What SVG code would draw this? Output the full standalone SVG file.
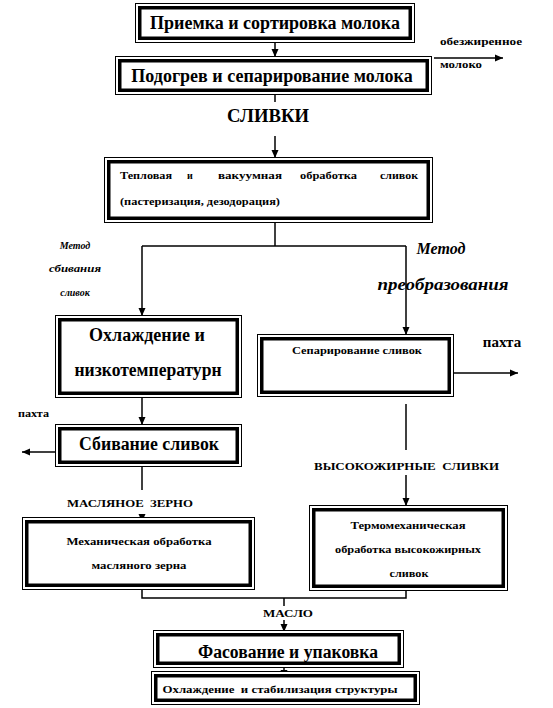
<svg xmlns="http://www.w3.org/2000/svg" width="553" height="708" viewBox="0 0 553 708" font-family="'Liberation Serif', 'DejaVu Serif', 'Times New Roman', serif">
<defs>
<marker id="ah" markerUnits="userSpaceOnUse" markerWidth="9" markerHeight="8" refX="8" refY="4" orient="auto">
<path d="M0,0.5 L8,4 L0,7.5 z" fill="#000"/>
</marker>
</defs>
<style>
.o{fill:#fff;stroke:#000;stroke-width:1}
.i{fill:none;stroke:#000;stroke-width:3.5}
.c{fill:none;stroke:#000;stroke-width:1.5}
.a{marker-end:url(#ah)}
text{font-family:'Liberation Serif','DejaVu Serif','Times New Roman',serif;font-weight:bold;fill:#000}
.big{font-size:18px;text-anchor:middle}
.sm{font-size:10px}
.smc{font-size:10px;text-anchor:middle}
.it{font-style:italic}
</style>
<rect width="553" height="708" fill="#fff"/>

<g id="connectors">
<line class="c a" x1="275" y1="43" x2="275" y2="57"/>
<line class="c" x1="275" y1="95" x2="275" y2="102"/>
<line class="c a" x1="275" y1="136" x2="275" y2="158"/>
<polyline class="c" points="275,222 275,246"/>
<polyline class="c a" points="142,246 142,316"/>
<polyline class="c" points="142,246 406,246"/>
<polyline class="c a" points="406,246 406,335"/>
<line class="c a" x1="434" y1="58" x2="503" y2="58"/>
<line class="c a" x1="454" y1="373" x2="518" y2="373"/>
<line class="c a" x1="142" y1="398" x2="142" y2="425"/>
<line class="c a" x1="56" y1="452" x2="22" y2="452"/>
<line class="c" x1="142" y1="466" x2="142" y2="490"/>
<line class="c a" x1="142" y1="514" x2="142" y2="522"/>
<line class="c" x1="406" y1="404" x2="406" y2="450"/>
<line class="c a" x1="406" y1="475" x2="406" y2="506"/>
<polyline class="c" points="142,590 142,598 406,598 406,591"/>
<line class="c" x1="284" y1="598" x2="284" y2="606"/>
<line class="c a" x1="284" y1="620" x2="284" y2="632"/>
<line class="c a" x1="284" y1="668" x2="284" y2="678"/>
</g>

<g id="n1">
<rect class="o" x="135.5" y="3.5" width="279" height="39"/>
<rect class="i" x="139.75" y="7.75" width="270.5" height="30.5"/>
<text class="big" x="275" y="29">Приемка и сортировка молока</text>
</g>

<g id="n2">
<rect class="o" x="115.5" y="56.5" width="316" height="38"/>
<rect class="i" x="119.75" y="60.75" width="307.5" height="29.5"/>
<text class="big" x="272" y="82">Подогрев и сепарирование молока</text>
</g>

<g id="l-obezh">
<text class="sm" x="440" y="45" textLength="82" lengthAdjust="spacingAndGlyphs">обезжиренное</text>
<text class="sm" x="440" y="68" textLength="42" lengthAdjust="spacingAndGlyphs">молоко</text>
</g>

<text id="l-slivki" x="268" y="122" style="font-size:18px;text-anchor:middle" textLength="82" lengthAdjust="spacingAndGlyphs">СЛИВКИ</text>

<g id="n3">
<rect class="o" x="104.5" y="157.5" width="328" height="65"/>
<rect class="i" x="108.75" y="161.75" width="319.5" height="56.5"/>
<text class="sm" x="120" y="179" textLength="52" lengthAdjust="spacingAndGlyphs">Тепловая</text>
<text class="sm" x="187" y="179">и</text>
<text class="sm" x="218" y="179" textLength="64" lengthAdjust="spacingAndGlyphs">вакуумная</text>
<text class="sm" x="300" y="179" textLength="57" lengthAdjust="spacingAndGlyphs">обработка</text>
<text class="sm" x="380" y="179" textLength="38" lengthAdjust="spacingAndGlyphs">сливок</text>
<text class="sm" x="120" y="205" textLength="160" lengthAdjust="spacingAndGlyphs">(пастеризация, дезодорация)</text>
</g>

<g id="l-metod1">
<text class="smc it" x="75" y="249">Метод</text>
<text class="smc it" x="75" y="272" textLength="52" lengthAdjust="spacingAndGlyphs">сбивания</text>
<text class="smc it" x="75" y="296">сливок</text>
</g>

<g id="l-metod2">
<text class="it" x="441" y="254" style="font-size:16px;text-anchor:middle">Метод</text>
<text class="it" x="443" y="290" style="font-size:16px;text-anchor:middle" textLength="131" lengthAdjust="spacingAndGlyphs">преобразования</text>
</g>

<g id="n4">
<rect class="o" x="55.5" y="315.5" width="186" height="82"/>
<rect class="i" x="59.75" y="319.75" width="177.5" height="73.5"/>
<text class="big" x="147" y="341">Охлаждение и</text>
<text class="big" x="148" y="376" textLength="147" lengthAdjust="spacingAndGlyphs">низкотемпературн</text>
</g>

<g id="n5">
<rect class="o" x="257.5" y="334.5" width="196" height="62"/>
<rect class="i" x="261.75" y="338.75" width="187.5" height="53.5"/>
<text class="smc" x="357" y="354" textLength="130" lengthAdjust="spacingAndGlyphs">Сепарирование сливок</text>
</g>

<text id="l-pakhta1" x="502" y="347" style="font-size:15px;text-anchor:middle">пахта</text>
<text id="l-pakhta2" class="sm" x="18" y="417" textLength="31" lengthAdjust="spacingAndGlyphs">пахта</text>

<g id="n6">
<rect class="o" x="55.5" y="424.5" width="186" height="42"/>
<rect class="i" x="59.75" y="428.75" width="177.5" height="33.5"/>
<text class="big" x="149" y="450" textLength="140" lengthAdjust="spacingAndGlyphs">Сбивание сливок</text>
</g>

<text id="l-vysok" class="sm" x="314" y="470" textLength="185" lengthAdjust="spacingAndGlyphs" xml:space="preserve">ВЫСОКОЖИРНЫЕ  СЛИВКИ</text>
<text id="l-maslzer" class="sm" x="67" y="507" textLength="126" lengthAdjust="spacingAndGlyphs" xml:space="preserve">МАСЛЯНОЕ  ЗЕРНО</text>

<g id="n7">
<rect class="o" x="309.5" y="505.5" width="198" height="85"/>
<rect class="i" x="313.75" y="509.75" width="189.5" height="76.5"/>
<text class="smc" x="408" y="529" textLength="115" lengthAdjust="spacingAndGlyphs">Термомеханическая</text>
<text class="smc" x="408" y="553" textLength="146" lengthAdjust="spacingAndGlyphs">обработка высокожирных</text>
<text class="smc" x="409" y="577" textLength="39" lengthAdjust="spacingAndGlyphs">сливок</text>
</g>

<g id="n8">
<rect class="o" x="22.5" y="517.5" width="232" height="72"/>
<rect class="i" x="26.75" y="521.75" width="223.5" height="63.5"/>
<text class="smc" x="139" y="545" textLength="145" lengthAdjust="spacingAndGlyphs">Механическая обработка</text>
<text class="smc" x="139" y="569" textLength="95" lengthAdjust="spacingAndGlyphs">масляного зерна</text>
</g>

<text id="l-maslo" class="smc" x="288" y="617" textLength="50" lengthAdjust="spacingAndGlyphs">МАСЛО</text>

<g id="n9">
<rect class="o" x="153.5" y="630.5" width="250" height="37"/>
<rect class="i" x="157.75" y="634.75" width="241.5" height="28.5"/>
<text class="big" x="288" y="658" textLength="180" lengthAdjust="spacingAndGlyphs">Фасование и упаковка</text>
</g>

<g id="n10">
<rect class="o" x="151.5" y="671.5" width="268" height="33"/>
<rect class="i" x="155.75" y="675.75" width="259.5" height="24.5"/>
<text class="smc" x="280" y="693" textLength="235" lengthAdjust="spacingAndGlyphs" xml:space="preserve">Охлаждение  и стабилизация структуры</text>
</g>
</svg>
